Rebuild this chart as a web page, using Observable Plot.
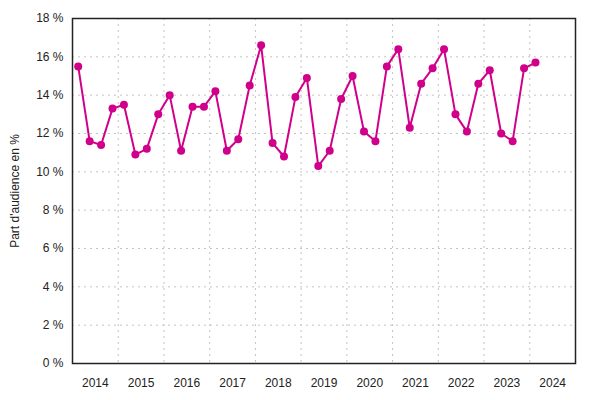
<!DOCTYPE html>
<html>
<head>
<meta charset="utf-8">
<script src="https://cdn.jsdelivr.net/npm/d3@7"></script>
<script src="https://cdn.jsdelivr.net/npm/@observablehq/plot@0.6"></script>
<style>
  body { margin: 0; background: #fff; }
  #chart { width: 600px; height: 400px; }
</style>
</head>
<body>
<div id="chart"></div>
<script>
// trimestres 2014 T1 -> 2024 T1
const years = [2014, 2014, 2014, 2014, 2015, 2015, 2015, 2015, 2016, 2016, 2016, 2016,
  2017, 2017, 2017, 2017, 2018, 2018, 2018, 2018, 2019, 2019, 2019, 2019,
  2020, 2020, 2020, 2020, 2021, 2021, 2021, 2021, 2022, 2022, 2022, 2022,
  2023, 2023, 2023, 2023, 2024]
const quarters = [1, 2, 3, 4, 1, 2, 3, 4, 1, 2, 3, 4, 1, 2, 3, 4, 1, 2, 3, 4,
  1, 2, 3, 4, 1, 2, 3, 4, 1, 2, 3, 4, 1, 2, 3, 4, 1, 2, 3, 4, 1]
// part d'audience (%)
const audience = [15.5, 11.6, 11.4, 13.3, 13.5, 10.9, 11.2, 13.0, 14.0, 11.1, 13.4, 13.4,
  14.2, 11.1, 11.7, 14.5, 16.6, 11.5, 10.8, 13.9, 14.9, 10.3, 11.1, 13.8,
  15.0, 12.1, 11.6, 15.5, 16.4, 12.3, 14.6, 15.4, 16.4, 13.0, 12.1, 14.6,
  15.3, 12.0, 11.6, 15.4, 15.7]

const yTicks = [0, 2, 4, 6, 8, 10, 12, 14, 16, 18]
const yearTicks = [2014, 2015, 2016, 2017, 2018, 2019, 2020, 2021, 2022, 2023, 2024]

const data = audience.map((v, i) => ({
  t: years[i] + (quarters[i] - 0.5) / 4,
  value: v
}))

const color = '#d1008b'
const gridStyle = { stroke: '#c4c4c4', strokeDasharray: '2,4', strokeWidth: 1 }

let chart = Plot.plot({
  width: 600,
  height: 400,
  marginLeft: 72,
  marginRight: 25,
  marginTop: 18,
  marginBottom: 37,
  style: { fontFamily: 'Liberation Sans, Arial, sans-serif', fontSize: '12px', color: '#222', background: '#fff' },
  x: { type: 'linear', domain: [2014, 2025] },
  y: { domain: [0, 18] },
  marks: [
    Plot.ruleY(yTicks.slice(1, -1), { ...gridStyle }),
    Plot.ruleX(yearTicks.slice(1), { ...gridStyle }),
    Plot.axisX(yearTicks.map(y => y + 0.5), {
      tickSize: 0, tickPadding: 15, tickFormat: d => String(Math.floor(d)), label: null, fontSize: 12
    }),
    Plot.axisY(yTicks, {
      tickSize: 0, tickPadding: 9, tickFormat: d => d + ' %',
      label: "Part d'audience en %", labelAnchor: 'center', labelArrow: 'none', labelOffset: 62, fontSize: 12
    }),
    Plot.frame({ stroke: '#222', strokeWidth: 1.5 }),
    Plot.line(data, { x: 't', y: 'value', stroke: color, strokeWidth: 2 }),
    Plot.dot(data, { x: 't', y: 'value', fill: color, r: 4 }),
  ]
})

d3.select('#chart').append(() => chart)
</script>
</body>
</html>
